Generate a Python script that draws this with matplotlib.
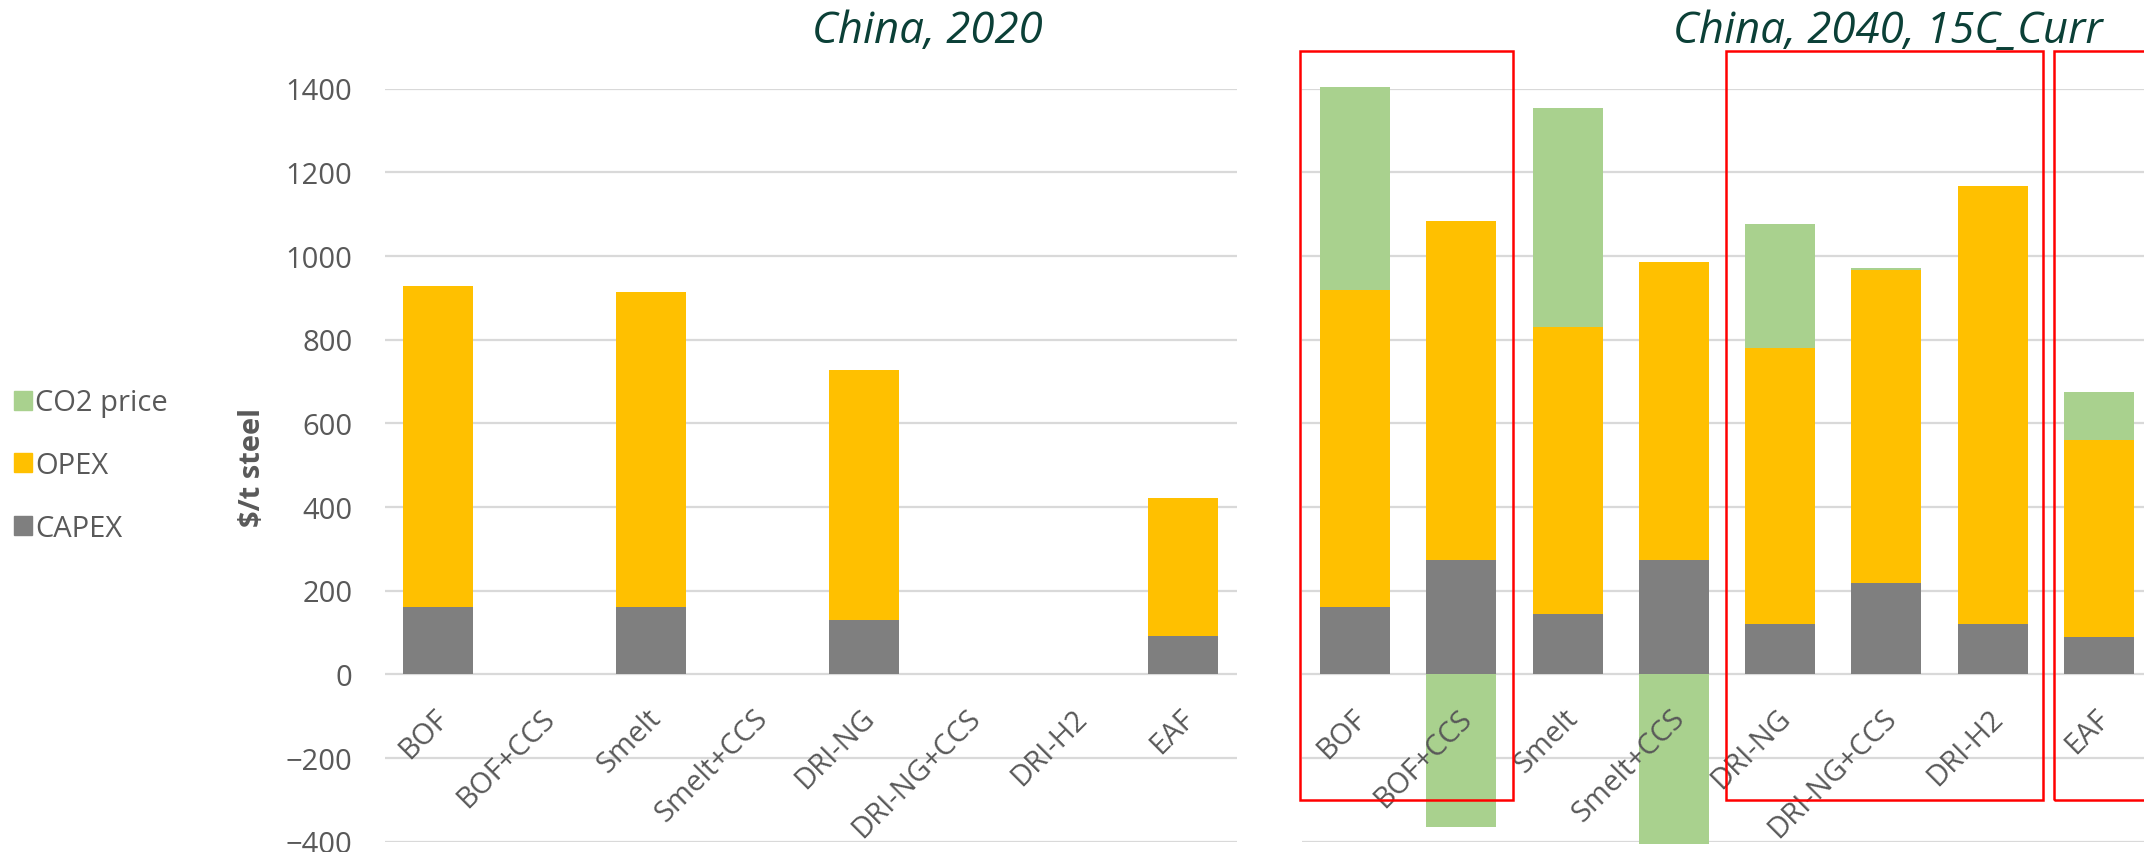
import numpy as np
import matplotlib.pyplot as plt
from matplotlib.patches import Patch, Rectangle
from matplotlib.transforms import offset_copy

plt.rcParams['font.family'] = ['Open Sans', 'DejaVu Sans']

# data ($/t steel)
categories = ["BOF", "BOF+CCS", "Smelt", "Smelt+CCS", "DRI-NG", "DRI-NG+CCS", "DRI-H2", "EAF"]

capex_2020 = [160, 0, 160, 0, 130, 0, 0, 92]
opex_2020 = [767, 0, 754, 0, 598, 0, 0, 329]
co2_2020 = [0, 0, 0, 0, 0, 0, 0, 0]

capex_2040 = [160, 274, 144, 274, 121, 218, 121, 88]
opex_2040 = [758, 809, 686, 712, 659, 748, 1047, 472]
co2_2040 = [486, -366, 524, -406, 295, 4, 0, 115]

# red boxes on the 2040 panel, left/right edge in category units
highlight_groups = [(-0.52, 1.49), (3.49, 6.47), (6.58, 8.0)]

GREY = '#7F7F7F'
ORANGE = '#FFC000'
GREEN = '#A9D18E'
TXT = '#595959'
TITLE = '#0B4037'

W, H = 2144, 853
fig = plt.figure(figsize=(W / 100, H / 100), dpi=100)


def px_axes(x0, x1, y_top, y_bot):
    return fig.add_axes([x0 / W, 1 - y_bot / H, (x1 - x0) / W, (y_bot - y_top) / H])


def draw(ax, capex, opex, co2, show_y):
    x = np.arange(len(categories))
    pos = np.zeros(len(x))
    neg = np.zeros(len(x))
    for vals, col in [(capex, GREY), (opex, ORANGE), (co2, GREEN)]:
        vals = np.asarray(vals, dtype=float)
        bottom = np.where(vals >= 0, pos, neg)
        ax.bar(x, vals, width=0.66, bottom=bottom, color=col, zorder=2, clip_on=False)
        pos += np.where(vals >= 0, vals, 0)
        neg += np.where(vals < 0, vals, 0)
    ax.set_xlim(-0.5, 7.5)
    ax.set_ylim(-400, 1400)
    ax.set_yticks(np.arange(-400, 1401, 200))
    ax.set_axisbelow(True)
    ax.yaxis.grid(True, color='#D9D9D9', lw=1.6)
    for s in ax.spines.values():
        s.set_visible(False)
    ax.set_xticks([])
    ax.tick_params(axis='y', length=0, pad=23, labelsize=21, labelcolor=TXT,
                   labelleft=show_y)
    # category labels sit just under the zero line
    trans = offset_copy(ax.transData, fig=fig, x=-4, y=-29, units='dots')
    for i, name in enumerate(categories):
        ax.text(i, 0, name, transform=trans, rotation=45, ha='right', va='top',
                rotation_mode='anchor', fontsize=21, color=TXT, zorder=5)


ax1 = px_axes(384.5, 1236.5, 89.5, 842.5)
ax2 = px_axes(1302, 2152, 89.5, 842.5)

draw(ax1, capex_2020, opex_2020, co2_2020, True)
draw(ax2, capex_2040, opex_2040, co2_2040, False)

for x0, x1 in highlight_groups:
    ax2.add_patch(Rectangle((x0, -300), x1 - x0, 1790, fill=False, ec='#FF0000',
                            lw=1.8, clip_on=False, zorder=6))

fig.text(927.5 / W, 1 - 43 / H, 'China, 2020', ha='center', va='baseline',
         style='italic', fontsize=31.5, color=TITLE)
fig.text(1888 / W, 1 - 43 / H, 'China, 2040, 15C_Curr', ha='center', va='baseline',
         style='italic', fontsize=31.5, color=TITLE)

fig.text(253 / W, 1 - 468 / H, '$/t steel', rotation=90, ha='center', va='center',
         fontsize=21, fontweight='bold', color=TXT)

handles = [Patch(color=GREEN, label='CO2 price'),
           Patch(color=ORANGE, label='OPEX'),
           Patch(color=GREY, label='CAPEX')]
fig.legend(handles=handles, loc='center left', bbox_to_anchor=(14 / W, 1 - 466.5 / H),
           frameon=False, fontsize=21, handlelength=0.62, handleheight=0.62,
           handletextpad=0.11, labelspacing=1.15, borderpad=0, borderaxespad=0,
           labelcolor=TXT)

fig.savefig('out.png', dpi=100)
